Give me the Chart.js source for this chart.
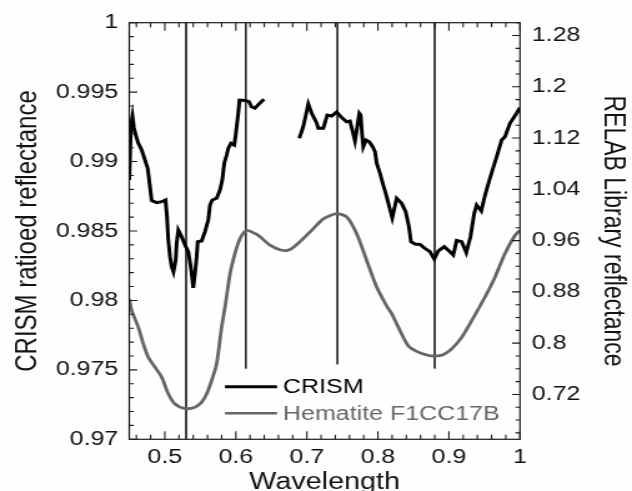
<!DOCTYPE html>
<html><head><meta charset="utf-8">
<script src="https://cdn.jsdelivr.net/npm/chart.js@4/dist/chart.umd.min.js"></script>
<style>
html,body{margin:0;padding:0;background:#fefefc;overflow:hidden;width:632px;height:491px}
#c{display:block;transform:scaleX(1.24901);transform-origin:0 0}
</style></head><body>
<canvas id="c" width="506" height="491"></canvas>
<script>
// ---- data ----
const seriesNames = ['CRISM', 'Hematite F1CC17B'];

// CRISM ratioed reflectance (left axis), two segments with a gap
const crismWlA = [0.4500,0.4524,0.4545,0.4566,0.4604,0.4627,0.4675,0.4721,0.4759,0.4791,0.4815,0.4886,0.4956,0.5010,0.5031,0.5049,0.5073,0.5097,0.5122,0.5153,0.5167,0.5190,0.5238,0.5284,0.5331,0.5354,0.5378,0.5401,0.5425,0.5449,0.5463,0.5519,0.5566,0.5612,0.5636,0.5668,0.5730,0.5777,0.5809,0.5837,0.5871,0.5894,0.5932,0.5978,0.5998,0.6034,0.6051,0.6129,0.6185,0.6223,0.6269,0.6326,0.6396];
const crismValA = [0.98867,0.99263,0.99328,0.99242,0.99168,0.99132,0.99083,0.99011,0.98952,0.98819,0.98720,0.98704,0.98711,0.98723,0.98603,0.98435,0.98315,0.98243,0.98205,0.98291,0.98411,0.98507,0.98459,0.98399,0.98351,0.98279,0.98195,0.98090,0.98195,0.98315,0.98423,0.98428,0.98495,0.98579,0.98687,0.98723,0.98736,0.98795,0.98867,0.98988,0.99047,0.99096,0.99132,0.99119,0.99191,0.99348,0.99443,0.99440,0.99431,0.99393,0.99384,0.99415,0.99448];
const crismWlB = [0.6893,0.6949,0.7020,0.7068,0.7138,0.7160,0.7231,0.7287,0.7349,0.7419,0.7490,0.7560,0.7607,0.7645,0.7677,0.7709,0.7738,0.7757,0.7776,0.7794,0.7832,0.7878,0.7926,0.7959,0.7983,0.8029,0.8075,0.8123,0.8160,0.8202,0.8264,0.8334,0.8391,0.8437,0.8465,0.8522,0.8592,0.8662,0.8733,0.8793,0.8850,0.8934,0.9014,0.9061,0.9109,0.9179,0.9244,0.9303,0.9356,0.9390,0.9455,0.9507,0.9577,0.9672,0.9742,0.9789,0.9859,0.9953,1.0000];
const crismValB = [0.99168,0.99251,0.99415,0.99348,0.99278,0.99240,0.99240,0.99335,0.99328,0.99357,0.99317,0.99287,0.99292,0.99215,0.99148,0.99251,0.99348,0.99335,0.99204,0.99107,0.99155,0.99143,0.99107,0.99071,0.98988,0.98916,0.98831,0.98747,0.98675,0.98594,0.98736,0.98699,0.98639,0.98531,0.98423,0.98406,0.98403,0.98375,0.98351,0.98298,0.98356,0.98387,0.98351,0.98327,0.98432,0.98423,0.98345,0.98459,0.98627,0.98687,0.98644,0.98756,0.98880,0.99035,0.99155,0.99179,0.99276,0.99348,0.99389];

// RELAB library hematite spectrum (right axis)
const hemWl = [0.45,0.4534,0.4627,0.4697,0.4767,0.4862,0.4956,0.5049,0.5143,0.5284,0.5425,0.5519,0.559,0.566,0.573,0.580,0.5847,0.5918,0.5988,0.6058,0.6153,0.627,0.6342,0.648,0.6645,0.6762,0.690,0.7068,0.7231,0.7419,0.756,0.770,0.7842,0.7983,0.8123,0.8194,0.8287,0.8427,0.8568,0.8709,0.8803,0.892,0.9038,0.9179,0.932,0.9507,0.9648,0.9789,0.9929,1.0];
const hemVal = [0.869,0.851,0.825,0.799,0.778,0.7625,0.747,0.721,0.705,0.698,0.700,0.708,0.721,0.742,0.768,0.825,0.856,0.908,0.940,0.963,0.976,0.971,0.966,0.953,0.945,0.946,0.958,0.976,0.994,1.002,0.997,0.971,0.929,0.8875,0.858,0.846,0.825,0.796,0.786,0.781,0.780,0.782,0.791,0.809,0.835,0.872,0.903,0.940,0.968,0.976];

// band-centre marker lines (wavelength, lower end on left axis; upper end = 1)
const bandCenters = [0.530, 0.614, 0.743, 0.880];
const bandLineBottom = [0.970, 0.9751, 0.9754, 0.9751];

// axis ranges and tick labels
const xRange = [0.45, 1.0];
const leftRange = [0.97, 1.0];
const rightRange = [0.65, 1.3];
const xTickLabels = [0.5, 0.6, 0.7, 0.8, 0.9, 1];
const leftTickLabels = [0.97, 0.975, 0.98, 0.985, 0.99, 0.995, 1];
const rightTickLabels = [0.72, 0.8, 0.88, 0.96, 1.04, 1.12, 1.2, 1.28];
const xMinorStep = 0.02, leftMinorStep = 0.001, rightMinorStep = 0.02;
const axisTitles = { x: 'Wavelength', left: 'CRISM ratioed reflectance', right: 'RELAB Library reflectance' };

// ---- drawing ----
const STRETCH = 632 / 506;
const FONT = "'Liberation Sans', Arial, Helvetica, sans-serif";
const zip = (xs, ys) => xs.map((x, i) => ({ x, y: ys[i] }));
function stepsIn(lo, hi, step) {
  const out = [];
  const start = Math.ceil(lo / step - 1e-9);
  const end = Math.floor(hi / step + 1e-9);
  for (let k = start; k <= end; k++) out.push(Math.round(k * step * 1e6) / 1e6);
  return out;
}
const isIn = (v, arr) => arr.some(a => Math.abs(a - v) < 1e-7);

const frameTicks = {
  id: 'frameTicks',
  afterDatasetsDraw(chart) {
    const { ctx, chartArea: a, scales } = chart;
    ctx.save();
    ctx.strokeStyle = '#1a1a1a';
    ctx.lineWidth = 1.2;
    ctx.strokeRect(a.left, a.top, a.right - a.left, a.bottom - a.top);
    ctx.lineWidth = 1.1;
    ctx.beginPath();
    stepsIn(xRange[0], xRange[1], xMinorStep).concat(xTickLabels).forEach(v => {
      const px = scales.x.getPixelForValue(v);
      const len = isIn(v, xTickLabels) ? 8 : 4.5;
      ctx.moveTo(px, a.bottom); ctx.lineTo(px, a.bottom - len);
      ctx.moveTo(px, a.top); ctx.lineTo(px, a.top + len);
    });
    stepsIn(leftRange[0], leftRange[1], leftMinorStep).forEach(v => {
      const py = scales.y.getPixelForValue(v);
      const len = (isIn(v, leftTickLabels) ? 8 : 4.5) / STRETCH;
      ctx.moveTo(a.left, py); ctx.lineTo(a.left + len, py);
    });
    stepsIn(rightRange[0], rightRange[1], rightMinorStep).forEach(v => {
      const py = scales.y1.getPixelForValue(v);
      const len = (isIn(v, rightTickLabels) ? 8 : 4.5) / STRETCH;
      ctx.moveTo(a.right, py); ctx.lineTo(a.right - len, py);
    });
    ctx.stroke();
    ctx.restore();
  }
};

const innerLegend = {
  id: 'innerLegend',
  afterDraw(chart) {
    const { ctx, chartArea: a } = chart;
    const items = [
      { label: seriesNames[0], color: '#000000', width: 3, dy: -52.6 },
      { label: seriesNames[1], color: '#666666', width: 2.6, dy: -26 }
    ];
    ctx.save();
    ctx.font = '20px ' + FONT;
    ctx.textBaseline = 'middle';
    ctx.textAlign = 'left';
    items.forEach(it => {
      const y = a.bottom + it.dy;
      ctx.strokeStyle = it.color;
      ctx.lineWidth = it.width;
      ctx.beginPath();
      ctx.moveTo(a.left + 76.6, y);
      ctx.lineTo(a.left + 118.3, y);
      ctx.stroke();
      ctx.fillStyle = it.color;
      ctx.fillText(it.label, a.left + 123.1, y + 1);
    });
    ctx.restore();
  }
};

const tickFont = { family: FONT, size: 20 };
const titleFont = { family: FONT, size: 23 };
const leftTitleFont = { family: FONT, size: 24 };

const datasets = [
  { label: seriesNames[0], data: zip(crismWlA, crismValA), yAxisID: 'y', borderColor: '#000', borderWidth: 3, order: 1 },
  { label: seriesNames[0], data: zip(crismWlB, crismValB), yAxisID: 'y', borderColor: '#000', borderWidth: 3, order: 1 },
  { label: seriesNames[1], data: zip(hemWl, hemVal), yAxisID: 'y1', borderColor: '#666666', borderWidth: 2.8, order: 2, tension: 0.25 }
].concat(bandCenters.map((c, i) => ({
  label: 'band ' + c, data: [{ x: c, y: leftRange[1] }, { x: c, y: bandLineBottom[i] }],
  yAxisID: 'y', borderColor: '#2a2a2a', borderWidth: 1, order: 3
})));
datasets.forEach(d => { d.showLine = true; d.pointRadius = 0; d.fill = false; });

new Chart(document.getElementById('c'), {
  type: 'scatter',
  data: { datasets },
  options: {
    responsive: false,
    animation: false,
    devicePixelRatio: 1,
    layout: { padding: { top: 22.7, left: 0, right: 0, bottom: 0 } },
    plugins: { legend: { display: false }, tooltip: { enabled: false } },
    scales: {
      x: {
        type: 'linear', position: 'bottom', min: xRange[0], max: xRange[1],
        afterBuildTicks: s => { s.ticks = xTickLabels.map(v => ({ value: v })); },
        afterFit: s => { s.height = 51.7; },
        grid: { display: false, drawTicks: false }, border: { display: false },
        ticks: { padding: 6, maxRotation: 0, minRotation: 0, autoSkip: false, color: '#111', font: tickFont, callback: v => String(v) },
        title: { display: true, text: axisTitles.x, color: '#111', font: titleFont, padding: { top: 0, bottom: -5 } }
      },
      y: {
        type: 'linear', position: 'left', min: leftRange[0], max: leftRange[1],
        afterBuildTicks: s => { s.ticks = leftTickLabels.map(v => ({ value: v })); },
        afterFit: s => { s.width = 103.5; },
        grid: { display: false, drawTicks: false }, border: { display: false },
        ticks: { padding: 8.8, autoSkip: false, color: '#111', font: tickFont, callback: v => String(v) },
        title: { display: true, text: axisTitles.left, color: '#111', font: leftTitleFont, padding: { top: 7.5, bottom: 0 } }
      },
      y1: {
        type: 'linear', position: 'right', min: rightRange[0], max: rightRange[1],
        afterBuildTicks: s => { s.ticks = rightTickLabels.map(v => ({ value: v })); },
        afterFit: s => { s.width = 89.7; },
        grid: { display: false, drawTicks: false }, border: { display: false },
        ticks: { padding: 9.4, autoSkip: false, color: '#111', font: tickFont, callback: v => String(v) },
        title: { display: true, text: axisTitles.right, color: '#111', font: titleFont, padding: { top: 2.2, bottom: 0 } }
      }
    }
  },
  plugins: [frameTicks, innerLegend]
});
</script>
</body></html>
